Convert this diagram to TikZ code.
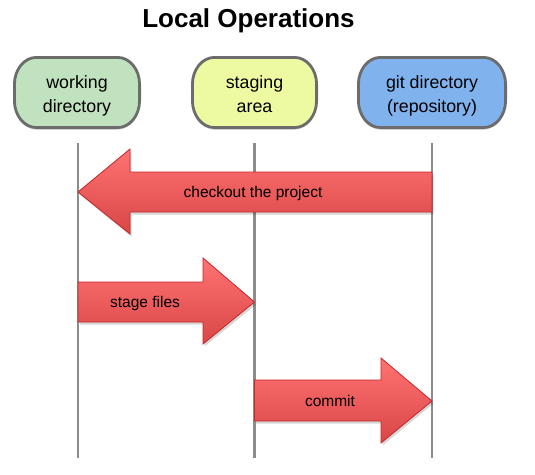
\documentclass[tikz,border=0pt]{standalone}
\usepackage{fontspec}
\setmainfont{Liberation Sans}
\definecolor{boxgray}{HTML}{6C6C6C}
\definecolor{linegray}{HTML}{8C8C8C}
\definecolor{wdgreen}{HTML}{C0E2BE}
\definecolor{sayellow}{HTML}{EEFAA2}
\definecolor{gdblue}{HTML}{80B2EE}
\definecolor{arrowtop}{HTML}{FF7373}
\definecolor{arrowbottom}{HTML}{D94646}
\definecolor{arrowborder}{HTML}{C4262A}
% box with elliptical corners: x0 y0 x1 y1 colour
\newcommand\ellbox[5]{%
  \fill[black, opacity=0.12, shift={(0,2.2)}] (#1+22,#2) -- (#3-22,#2)
    arc[start angle=-90, end angle=0, x radius=22, y radius=27] -- (#3,#4-27)
    arc[start angle=0, end angle=90, x radius=22, y radius=27] -- (#1+22,#4)
    arc[start angle=90, end angle=180, x radius=22, y radius=27] -- (#1,#2+27)
    arc[start angle=180, end angle=270, x radius=22, y radius=27] -- cycle;
  \path[boxshape, fill=#5] (#1+22,#2) -- (#3-22,#2)
    arc[start angle=-90, end angle=0, x radius=22, y radius=27] -- (#3,#4-27)
    arc[start angle=0, end angle=90, x radius=22, y radius=27] -- (#1+22,#4)
    arc[start angle=90, end angle=180, x radius=22, y radius=27] -- (#1,#2+27)
    arc[start angle=180, end angle=270, x radius=22, y radius=27] -- cycle;}
\begin{document}
\begin{tikzpicture}[x=1pt,y=-1pt]
\useasboundingbox (0,0) rectangle (535,474);
\tikzset{
  boxshape/.style={draw=boxgray, line width=2.8pt},
  boxtext/.style={align=center, inner sep=0pt,
    font=\fontsize{17.8}{24}\selectfont},
  life/.style={draw=linegray, line width=2.6pt},
  bigarrow/.style={draw=arrowborder, line width=0.8pt, line join=miter,
    top color=arrowtop, bottom color=arrowbottom},
  arrowshadow/.style={fill=black, opacity=0.16},
  arrowlabel/.style={anchor=base, font=\fontsize{15.5}{18}\selectfont}
}
% title
\node[anchor=base, font=\bfseries\fontsize{26}{30}\selectfont] (title) at (248.5,27) {Local Operations};
% boxes
\ellbox{14.4}{57.4}{139.6}{127.6}{wdgreen}
\ellbox{192.4}{57.4}{316.6}{127.6}{sayellow}
\ellbox{358.4}{57.4}{505.6}{127.6}{gdblue}
\node[boxtext] (wd) at (77,95.2) {\strut working\\\strut directory};
\node[boxtext] (sa) at (254.5,95.2) {\strut staging\\\strut area};
\node[boxtext] (gd) at (432,95.2) {\strut git directory\\\strut (repository)};
% lifelines
\coordinate (wdtop) at (78,143); \coordinate (wdbot) at (78,458);
\coordinate (satop) at (254.5,143); \coordinate (sabot) at (254.5,458);
\coordinate (gdtop) at (432,143); \coordinate (gdbot) at (432,458);
\draw[life] (wdtop) -- (wdbot);
\draw[life] (satop) -- (sabot);
\draw[life] (gdtop) -- (gdbot);
% checkout arrow
\fill[arrowshadow, shift={(1.5,2.5)}] (78,192) -- (130,149) -- (130,172) -- (432,172) -- (432,212) -- (130,212) -- (130,234) -- cycle;
\path[bigarrow] (78,192) -- (130,149) -- (130,172) -- (432,172) -- (432,212) -- (130,212) -- (130,234) -- cycle;
\node[arrowlabel] (co) at (253,197) {checkout the project};
% stage files arrow
\fill[arrowshadow, shift={(1.5,2.5)}] (78,282) -- (203,282) -- (203,258) -- (254.5,302) -- (203,344) -- (203,322) -- (78,322) -- cycle;
\path[bigarrow] (78,282) -- (203,282) -- (203,258) -- (254.5,302) -- (203,344) -- (203,322) -- (78,322) -- cycle;
\node[arrowlabel] (sf) at (145,307) {stage files};
% commit arrow
\fill[arrowshadow, shift={(1.5,2.5)}] (254.5,380) -- (381,380) -- (381,358) -- (432,401) -- (381,443) -- (381,421) -- (254.5,421) -- cycle;
\path[bigarrow] (254.5,380) -- (381,380) -- (381,358) -- (432,401) -- (381,443) -- (381,421) -- (254.5,421) -- cycle;
\node[arrowlabel] (cm) at (330,406) {commit};
\end{tikzpicture}
\end{document}
